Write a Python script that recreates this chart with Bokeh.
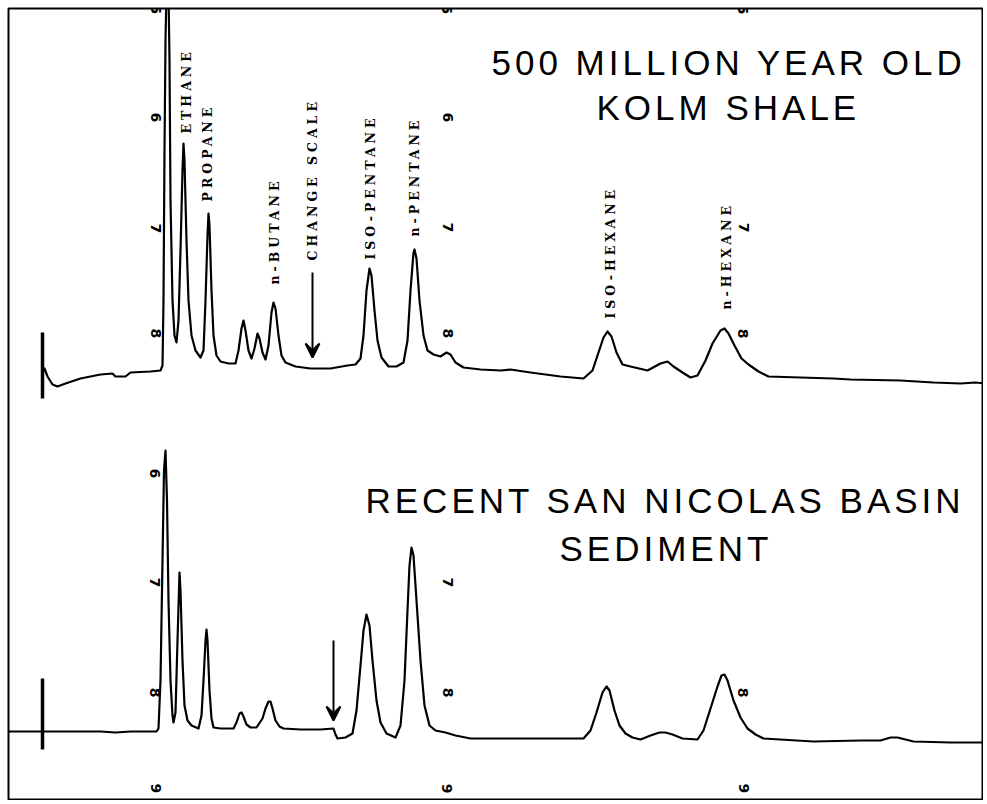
from bokeh.plotting import figure
from bokeh.models import Range1d, Arrow, VeeHead, InlineStyleSheet, ColumnDataSource, LabelSet
from bokeh.core.properties import value
from bokeh.embed import file_html
from bokeh.resources import INLINE

# ---------------- data (chart-paper units: time along x, pen position down the paper) ----------------
# Upper chromatogram: 500 million year old Kolm shale
kolm_t = [42, 44, 47, 52, 57, 65, 80, 100, 112, 115, 125, 130, 150, 160, 162, 163, 164, 165, 166, 168,
          169, 170, 172, 174, 176, 178, 180, 182, 183, 184, 186, 188, 191, 195, 200, 203, 205, 207, 208,
          209, 211, 213, 216, 220, 228, 235, 238, 241, 243, 245, 248, 251, 254, 257, 259, 262, 265, 268,
          271, 273, 275, 278, 281, 285, 295, 310, 330, 347, 355, 360, 363, 366, 369, 371, 374, 377, 381,
          388, 396, 403, 407, 410, 413, 414, 416, 419, 423, 427, 433, 440, 446, 450, 455, 463, 480, 500,
          510, 530, 560, 583, 592, 598, 603, 607, 611, 616, 622, 630, 647, 660, 667, 673, 682, 690, 697,
          705, 712, 720, 724, 728, 734, 741, 748, 758, 768, 800, 833, 850, 900, 933, 960, 975, 985]
kolm_s = [372, 368, 376, 384, 386, 383, 378, 374, 373, 376, 376, 372, 371, 370, 365, 300, 150, 40, -10, -10,
          60, 200, 300, 335, 342, 320, 250, 170, 143, 160, 240, 300, 335, 350, 357, 350, 300, 235, 213,
          225, 290, 335, 355, 361, 363, 363, 350, 328, 320, 330, 350, 358, 348, 333, 338, 352, 359, 345,
          312, 302, 308, 335, 355, 362, 366, 368, 368, 365, 364, 358, 335, 290, 268, 275, 310, 340, 357,
          366, 366, 362, 340, 290, 252, 249, 258, 300, 335, 350, 354, 356, 352, 354, 362, 367, 369, 370,
          369, 372, 376, 378, 370, 352, 337, 331, 336, 352, 364, 366, 370, 363, 361, 366, 372, 377, 375,
          360, 343, 330, 328, 333, 345, 358, 364, 371, 376, 377, 378, 379, 380, 382, 383, 382, 383]

# Lower chromatogram: recent San Nicolas Basin sediment
sn_t = [0, 42, 100, 115, 130, 156, 158, 160, 162, 163.5, 165, 166.5, 168, 170, 172, 173, 175, 177, 179, 180,
        182, 184, 187, 191, 198, 201, 203, 205, 206, 207, 209, 211, 213, 220, 233, 236, 239, 241, 243, 246,
        250, 256, 262, 265, 268, 270, 272, 275, 279, 283, 300, 320, 333, 335, 337, 345, 352, 356, 360, 363,
        366, 369, 372, 376, 380, 386, 395, 400, 404, 407, 409, 411, 413, 416, 420, 424, 429, 435, 445, 455,
        470, 500, 550, 583, 590, 596, 602, 606, 609, 614, 619, 625, 632, 640, 650, 659, 665, 672, 682, 697,
        703, 710, 717, 721, 724, 727, 733, 740, 747, 755, 763, 813, 860, 880, 890, 897, 905, 913, 950, 985]
sn_s = [731, 731, 731, 732, 731, 731, 728, 680, 560, 470, 450, 500, 600, 680, 715, 722, 712, 640, 572, 590,
        660, 705, 720, 725, 728, 715, 680, 640, 629, 640, 690, 718, 727, 728, 728, 722, 713, 712, 716, 724,
        727, 727, 718, 708, 701, 701, 708, 720, 726, 728, 729, 729, 728, 734, 738, 737, 733, 710, 665, 630,
        614, 625, 660, 700, 722, 733, 737, 725, 680, 610, 565, 547, 555, 600, 660, 705, 725, 730, 732, 735,
        738, 738, 738, 738, 730, 712, 692, 686, 690, 710, 725, 733, 737, 739, 735, 732, 732, 734, 738, 739,
        730, 708, 686, 675, 674, 680, 700, 717, 728, 734, 738, 741, 740, 740, 737, 737, 739, 741, 742, 742]

# injection marks (time, top, bottom)
inject_t = [42, 42]
inject_top = [332, 678]
inject_bot = [398, 749]

# "change scale" arrows (time, start, end)
arrow_t = [312, 333]
arrow_from = [272, 640]
arrow_to = [357, 720]

# peak labels (upper trace)
peak_names = ["ETHANE", "PROPANE", "n-BUTANE", "CHANGE SCALE", "ISO-PENTANE", "n-PENTANE", "ISO-HEXANE", "n-HEXANE"]
peak_label_t = [186, 207, 274, 312, 370, 414, 610, 726]
peak_label_s = [133, 201, 284, 260, 259, 236, 318, 309]

# chart-paper division numbers
div_text = ["5", "5", "5", "6", "7", "8", "6", "7", "8", "7", "8",
            "6", "7", "8", "7", "8", "8", "9", "9", "9"]
div_t = [155, 446, 742, 155, 155, 155, 447, 447, 447, 743, 743,
         154, 154, 154, 448, 448, 742, 155, 447, 743]
div_s = [9, 9, 9, 117, 228, 333, 117, 227, 333, 227, 333,
         473, 582, 692, 582, 692, 692, 788, 788, 788]

titles = ["500 MILLION YEAR OLD", "KOLM SHALE", "RECENT SAN NICOLAS BASIN", "SEDIMENT"]
title_t = [491, 596, 365, 559]
title_s = [62, 107, 500, 548]

# ---------------- figure ----------------
p = figure(width=983, height=800, x_range=Range1d(8, 983), y_range=Range1d(800, 8),
           output_backend="svg", toolbar_location=None,
           min_border_left=8, min_border_top=8, min_border_right=0, min_border_bottom=0,
           x_axis_location=None, y_axis_location=None)
p.grid.visible = False
p.outline_line_color = "black"
p.outline_line_width = 2
p.background_fill_color = "white"
p.border_fill_color = "white"
p.stylesheets = [InlineStyleSheet(css=":host { letter-spacing: 4px; }")]

p.line(kolm_t, kolm_s, line_color="black", line_width=2.2, line_join="round")
p.line(sn_t, sn_s, line_color="black", line_width=2.2, line_join="round")

p.segment(x0=inject_t, y0=inject_top, x1=inject_t, y1=inject_bot, line_color="black", line_width=3.5)

for t, a, b in zip(arrow_t, arrow_from, arrow_to):
    p.add_layout(Arrow(end=VeeHead(size=14, line_width=2, line_color="black"),
                       x_start=t, y_start=a, x_end=t, y_end=b, line_width=2, line_color="black"))

p.text(x=peak_label_t, y=peak_label_s, text=peak_names, angle=1.5708,
       text_font=value("DejaVu Serif"), text_font_style="bold", text_font_size="12.5px",
       text_color="black", text_align="left", text_baseline="middle")

div_src = ColumnDataSource(dict(x=div_t, y=div_s, text=div_text))
p.add_layout(LabelSet(x="x", y="y", text="text", source=div_src, angle=-1.5708,
                      text_font=value("DejaVu Sans"), text_font_style="bold", text_font_size="14px",
                      text_color="black", text_align="center", text_baseline="middle"))

p.text(x=title_t, y=title_s, text=titles, text_font_size="35px",
       text_font=value("Liberation Sans"), text_color="black",
       text_align="left", text_baseline="alphabetic")

open("out.html", "w").write(file_html(p, INLINE))
